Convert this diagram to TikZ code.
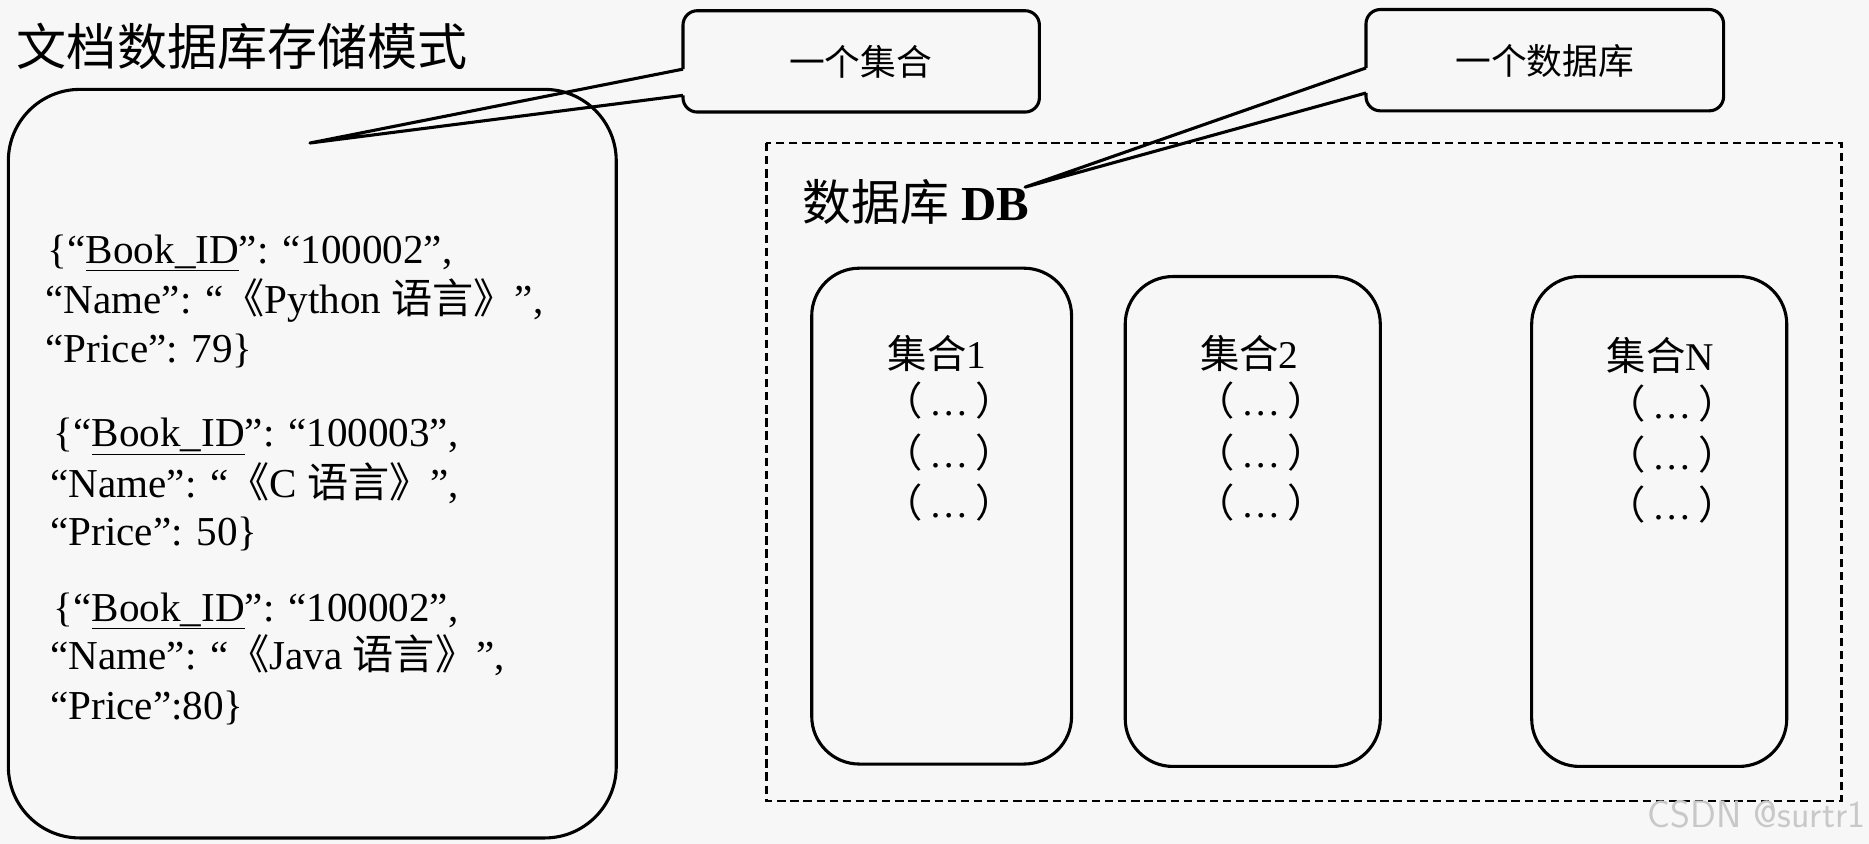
\documentclass[tikz,border=0pt]{standalone}
\usepackage{fontspec}
\setmainfont{Liberation Serif}
\newfontfamily\cjk{Noto Sans CJK SC}
\begin{document}
\begin{tikzpicture}[x=1pt,y=-1pt,
  box/.style={draw=black,line width=2.6pt,rounded corners=40},
  ln/.style={anchor=base west,inner sep=0,font=\fontsize{34.5}{35}\selectfont},
  ct/.style={anchor=base,inner sep=0,font=\fontsize{33}{34}\selectfont}]
\fill[fill={rgb,255:red,247;green,247;blue,247}] (0,0) rectangle (1568,708);
\useasboundingbox (0,0) rectangle (1568,708);
\node[anchor=base west,inner sep=0,font=\cjk\fontsize{42}{44}\selectfont] (title) at (14,55) {文档数据库存储模式};
\draw[box,rounded corners=60] (7,75) rectangle (517,703);
% callout 1
\draw[line width=2.6pt,line join=round] (573,58) -- (260,120) -- (573,80);
\draw[line width=2.6pt,rounded corners=12] (573,58) -- (573,9) -- (872,9) -- (872,94) -- (573,94) -- (573,80);
\node[font=\cjk\fontsize{30}{31}\selectfont] (c1) at (722,52) {一个集合};
% callout 2
\draw[line width=2.6pt,line join=round] (1146,57) -- (860,157) -- (1146,78);
\draw[line width=2.6pt,rounded corners=12] (1146,57) -- (1146,8) -- (1446,8) -- (1446,93) -- (1146,93) -- (1146,78);
\node[font=\cjk\fontsize{30}{31}\selectfont] (c2) at (1296,51) {一个数据库};
% database
\draw[line width=2.4pt,dash pattern=on 7pt off 4pt] (643,120) rectangle (1545,672);
\node[anchor=base west,inner sep=0,font=\fontsize{41}{43}\selectfont] (db) at (673,185) {{\cjk 数据库} \textbf{DB}};
\draw[box] (681,225) rectangle (899,641);
\draw[box] (944,232) rectangle (1158,643);
\draw[box] (1285,232) rectangle (1499,643);
\foreach \x/\y/\t [count=\i] in {786/309/1,1048/309/2,1393/311/N}{
  \node[ct] (h\i) at (\x,\y) {{\cjk 集合}\t};
  \node[ct] (a\i) at (\x+10,\y+40) {{\cjk （}\,…\,{\cjk ）}};
  \node[ct] (b\i) at (\x+10,\y+83) {{\cjk （}\,…\,{\cjk ）}};
  \node[ct] (d\i) at (\x+10,\y+125) {{\cjk （}\,…\,{\cjk ）}};
}
% documents
\node[ln] (l1) at (40,221) {\{“\underline{Book\_ID}”: “100002”,};
\node[ln] (l2) at (38,263) {“Name”: “{\cjk 《}Python {\cjk 语言》}”,};
\node[ln] (l3) at (38,304) {“Price”: 79\}};
\node[ln] (l4) at (45,375) {\{“\underline{Book\_ID}”: “100003”,};
\node[ln] (l5) at (42,417) {“Name”: “{\cjk 《}C {\cjk 语言》}”,};
\node[ln] (l6) at (42,458) {“Price”: 50\}};
\node[ln] (l7) at (45,521) {\{“\underline{Book\_ID}”: “100002”,};
\node[ln] (l8) at (42,562) {“Name”: “{\cjk 《}Java {\cjk 语言》}”,};
\node[ln] (l9) at (42,604) {“Price”:80\}};
\node[anchor=base east,inner sep=0,text={rgb,255:red,200;green,200;blue,200},font=\fontsize{32}{34}\selectfont\sffamily] (wm) at (1565,694) {CSDN @surtr1};
\end{tikzpicture}
\end{document}
